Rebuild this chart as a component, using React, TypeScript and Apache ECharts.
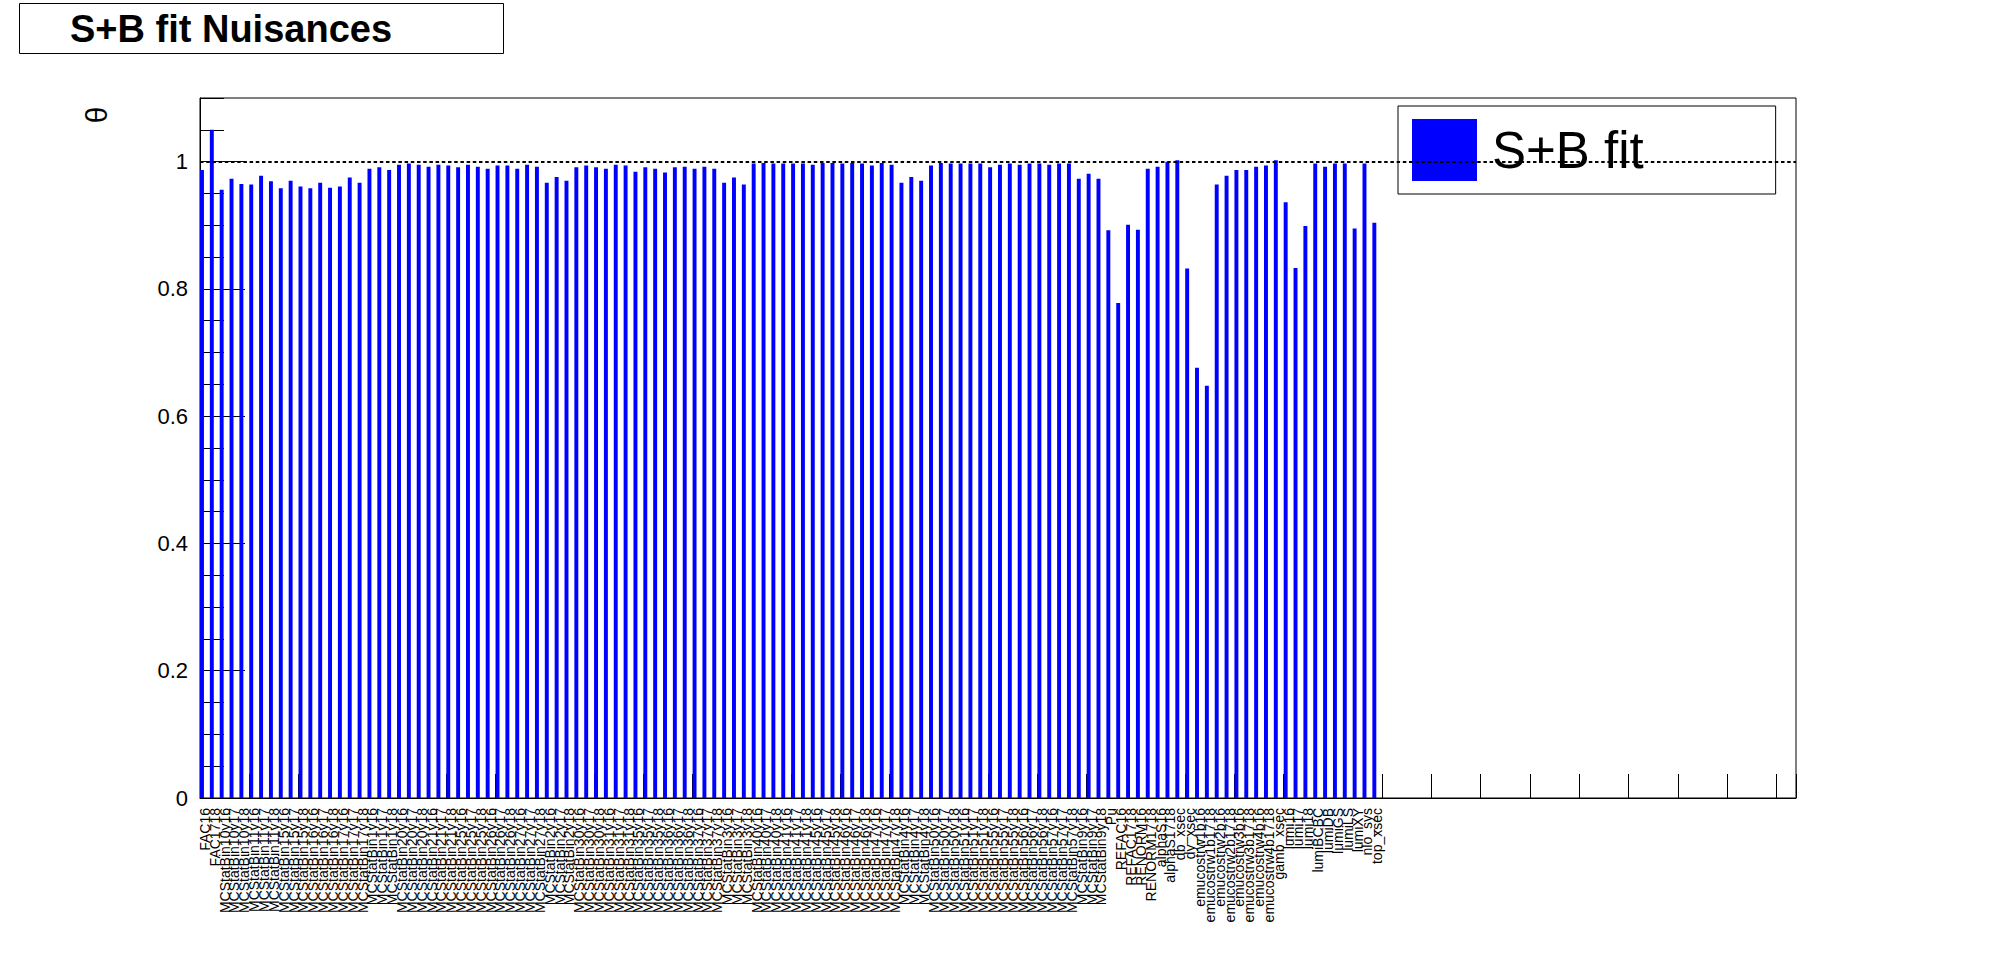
import React, { useEffect, useRef } from 'react';
import * as echarts from 'echarts';

// Nuisance parameter names (bin labels, left to right)
const LABELS: string[] = [
  'FAC16', 'FAC1718',
  'MCStatBin10y16', 'MCStatBin10y17', 'MCStatBin10y18',
  'MCStatBin11y16', 'MCStatBin11y17', 'MCStatBin11y18',
  'MCStatBin15y16', 'MCStatBin15y17', 'MCStatBin15y18',
  'MCStatBin16y16', 'MCStatBin16y17', 'MCStatBin16y18',
  'MCStatBin17y16', 'MCStatBin17y17', 'MCStatBin17y18',
  'MCStatBin1y16', 'MCStatBin1y17', 'MCStatBin1y18',
  'MCStatBin20y16', 'MCStatBin20y17', 'MCStatBin20y18',
  'MCStatBin21y16', 'MCStatBin21y17', 'MCStatBin21y18',
  'MCStatBin25y16', 'MCStatBin25y17', 'MCStatBin25y18',
  'MCStatBin26y16', 'MCStatBin26y17', 'MCStatBin26y18',
  'MCStatBin27y16', 'MCStatBin27y17', 'MCStatBin27y18',
  'MCStatBin2y16', 'MCStatBin2y17', 'MCStatBin2y18',
  'MCStatBin30y16', 'MCStatBin30y17', 'MCStatBin30y18',
  'MCStatBin31y16', 'MCStatBin31y17', 'MCStatBin31y18',
  'MCStatBin35y16', 'MCStatBin35y17', 'MCStatBin35y18',
  'MCStatBin36y16', 'MCStatBin36y17', 'MCStatBin36y18',
  'MCStatBin37y16', 'MCStatBin37y17', 'MCStatBin37y18',
  'MCStatBin3y16', 'MCStatBin3y17', 'MCStatBin3y18',
  'MCStatBin40y16', 'MCStatBin40y17', 'MCStatBin40y18',
  'MCStatBin41y16', 'MCStatBin41y17', 'MCStatBin41y18',
  'MCStatBin45y16', 'MCStatBin45y17', 'MCStatBin45y18',
  'MCStatBin46y16', 'MCStatBin46y17', 'MCStatBin46y18',
  'MCStatBin47y16', 'MCStatBin47y17', 'MCStatBin47y18',
  'MCStatBin4y16', 'MCStatBin4y17', 'MCStatBin4y18',
  'MCStatBin50y16', 'MCStatBin50y17', 'MCStatBin50y18',
  'MCStatBin51y16', 'MCStatBin51y17', 'MCStatBin51y18',
  'MCStatBin55y16', 'MCStatBin55y17', 'MCStatBin55y18',
  'MCStatBin56y16', 'MCStatBin56y17', 'MCStatBin56y18',
  'MCStatBin57y16', 'MCStatBin57y17', 'MCStatBin57y18',
  'MCStatBin9y16', 'MCStatBin9y17', 'MCStatBin9y18',
  'Pu', 'REFAC16', 'REFAC1718', 'RENORM16', 'RENORM1718',
  'alphaS16', 'alphaS1718', 'db_xsec', 'dy_xsec',
  'emucostrw1b16', 'emucostrw1b1718', 'emucostrw2b16', 'emucostrw2b1718',
  'emucostrw3b16', 'emucostrw3b1718', 'emucostrw4b16', 'emucostrw4b1718',
  'gamb_xsec', 'lumi16', 'lumi17', 'lumi18', 'lumiBCBC', 'lumiDB',
  'lumiGS', 'lumiLS', 'lumiXY', 'nlo_sys', 'top_xsec',
];

// Fitted nuisance values (S+B fit), one per label
const SB_FIT: number[] = [
  0.987, 1.050, 0.956, 0.973, 0.965, 0.964, 0.978, 0.969, 0.958, 0.970,
  0.961, 0.958, 0.967, 0.959, 0.961, 0.975, 0.967, 0.989, 0.991, 0.987,
  0.995, 0.997, 0.995, 0.992, 0.995, 0.994, 0.991, 0.995, 0.992, 0.989,
  0.994, 0.994, 0.989, 0.995, 0.992, 0.967, 0.976, 0.970, 0.991, 0.994,
  0.991, 0.989, 0.995, 0.994, 0.984, 0.991, 0.989, 0.983, 0.991, 0.992,
  0.989, 0.992, 0.989, 0.967, 0.975, 0.964, 0.997, 0.998, 0.997, 0.997,
  0.997, 0.997, 0.995, 0.998, 0.998, 0.997, 0.998, 0.997, 0.994, 0.998,
  0.995, 0.967, 0.976, 0.970, 0.994, 0.998, 0.997, 0.997, 0.997, 0.997,
  0.991, 0.995, 0.997, 0.995, 0.997, 0.997, 0.995, 0.997, 0.997, 0.973,
  0.981, 0.973, 0.892, 0.778, 0.901, 0.893, 0.989, 0.992, 1.000, 1.002,
  0.832, 0.676, 0.648, 0.964, 0.978, 0.987, 0.987, 0.992, 0.994, 1.002,
  0.936, 0.833, 0.899, 0.997, 0.992, 0.997, 0.997, 0.895, 0.997, 0.904,
];

// Unlabelled (empty) bins that follow on the histogram axis
const EMPTY_BIN_COUNT = 42;
const X_TICK_EVERY = 5;
const REFERENCE_LEVEL = 1;
const Y_MIN = 0;
const Y_MAX = 1.1;
const Y_MAJOR = 0.2;
const Y_MINOR = 0.05;

const FONT = '"Liberation Sans", Arial, Helvetica, sans-serif';

export default function App() {
  const ref = useRef<HTMLDivElement>(null);

  useEffect(() => {
    document.body.style.margin = '0';
    if (!ref.current) return;
    const chart = echarts.init(ref.current, null, { renderer: 'svg' });

    const categories = [
      ...LABELS,
      ...Array.from({ length: EMPTY_BIN_COUNT }, (_, i) => `__empty${i}`),
    ];

    chart.setOption({
      animation: false,
      backgroundColor: '#ffffff',
      textStyle: { fontFamily: FONT, color: '#000' },
      title: {
        text: 'S+B fit Nuisances',
        left: 19,
        top: 4,
        padding: [6, 112, 6, 51],
        borderColor: '#000',
        borderWidth: 1,
        backgroundColor: '#fff',
        textStyle: {
          fontFamily: FONT,
          fontSize: 38,
          fontWeight: 'bold',
          color: '#000',
          lineHeight: 37,
        },
      },
      legend: {
        data: ['S+B fit'],
        left: 1398,
        top: 106,
        orient: 'horizontal',
        padding: [13, 132, 13, 14],
        borderColor: '#000',
        borderWidth: 1,
        backgroundColor: '#fff',
        itemWidth: 65,
        itemHeight: 62,
        icon: 'rect',
        selectedMode: false,
        textStyle: {
          fontFamily: FONT,
          fontSize: 51,
          color: '#000',
          padding: [0, 0, 0, 10],
        },
      },
      grid: {
        left: 200,
        top: 98,
        width: 1596,
        height: 700,
        show: true,
        borderColor: '#000',
        borderWidth: 1,
        backgroundColor: 'transparent',
        containLabel: false,
      },
      graphic: [
        {
          type: 'text',
          x: 96,
          y: 115,
          rotation: Math.PI / 2,
          style: {
            text: 'θ',
            font: `30px ${FONT}`,
            fill: '#000',
            align: 'center',
            verticalAlign: 'middle',
            textAlign: 'center',
            textVerticalAlign: 'middle',
          },
        },
      ],
      xAxis: {
        type: 'category',
        data: categories,
        boundaryGap: true,
        axisLine: { show: true, lineStyle: { color: '#000', width: 1 } },
        axisTick: {
          show: true,
          inside: true,
          length: 24,
          interval: (index: number) => index % X_TICK_EVERY === 0,
          alignWithLabel: false,
          lineStyle: { color: '#000', width: 1 },
        },
        axisLabel: {
          interval: 0,
          rotate: 90,
          fontSize: 14,
          fontFamily: FONT,
          color: '#000',
          margin: 10,
          formatter: (v: string) => (v.startsWith('__empty') ? '' : v),
        },
        splitLine: { show: false },
      },
      yAxis: [
        {
          type: 'value',
          min: Y_MIN,
          max: Y_MAX,
          interval: Y_MINOR,
          position: 'left',
          axisLine: { show: true, lineStyle: { color: '#000', width: 1 } },
          axisTick: { show: true, inside: true, length: 24, lineStyle: { color: '#000', width: 1 } },
          axisLabel: { show: false },
          splitLine: { show: false },
        },
        {
          type: 'value',
          min: Y_MIN,
          max: Y_MAX,
          interval: Y_MAJOR,
          position: 'left',
          axisLine: { show: false },
          axisTick: { show: true, inside: true, length: 45, lineStyle: { color: '#000', width: 1 } },
          axisLabel: {
            show: true,
            fontSize: 22,
            fontFamily: FONT,
            color: '#000',
            margin: 12,
            showMaxLabel: false,
          },
          splitLine: { show: false },
        },
      ],
      series: [
        {
          name: 'S+B fit',
          type: 'bar',
          data: SB_FIT,
          yAxisIndex: 0,
          barWidth: '40%',
          barGap: '0%',
          itemStyle: { color: '#0000ff' },
          markLine: {
            silent: true,
            symbol: 'none',
            label: { show: false },
            lineStyle: { color: '#000', type: [3.5, 2.7], width: 2 },
            data: [{ yAxis: REFERENCE_LEVEL }],
          },
        },
        {
          name: '__pad',
          type: 'bar',
          data: [],
          yAxisIndex: 0,
          barWidth: '60%',
          barGap: '0%',
          silent: true,
          itemStyle: { color: 'rgba(0,0,0,0)' },
        },
      ],
    });

    return () => chart.dispose();
  }, []);

  return <div ref={ref} style={{ width: 1996, height: 972 }} />;
}
